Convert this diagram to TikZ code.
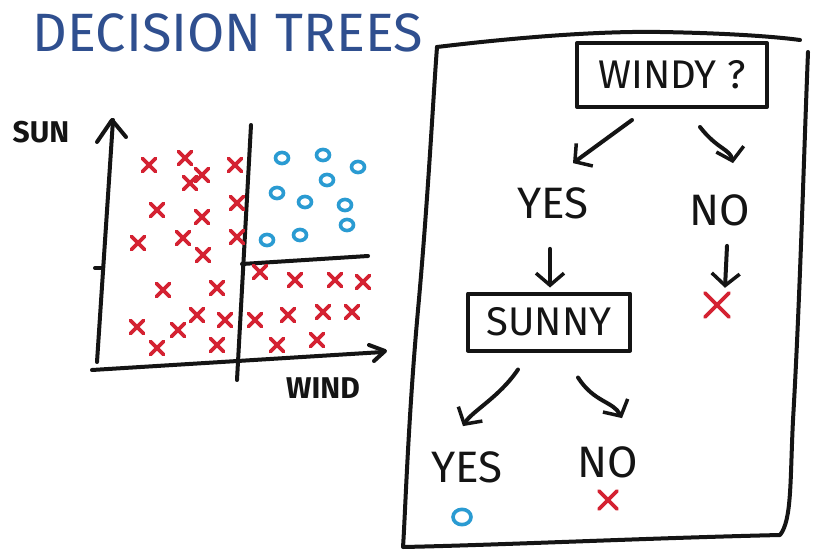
\documentclass[tikz,border=0pt]{standalone}
\usepackage{fontspec}
\setmainfont{Fira Sans}
\usetikzlibrary{arrows.meta,calc}
\definecolor{inkblack}{HTML}{141414}
\definecolor{titleblue}{HTML}{2F4F8F}
\definecolor{markred}{HTML}{D42232}
\definecolor{markblue}{HTML}{2A9BD2}
\tikzset{
  ink/.style={draw=inkblack, line width=4pt, line cap=round, line join=round},
  arr/.style={ink, -{Straight Barb[length=12pt,width=28pt,line width=3.5pt]}},
  lbl/.style={font=\fontsize{44}{44}\selectfont, text=inkblack, inner sep=0pt},
  axlbl/.style={font=\fontsize{30}{30}\selectfont\bfseries, text=inkblack, inner sep=0pt},
  decbox/.style={ink, inner sep=0pt, font=\fontsize{40}{40}\selectfont, text=inkblack},
  xmark/.style={draw=markred, line width=3.6pt, line cap=round},
  omark/.style={draw=markblue, line width=3.6pt},
}
\newcommand{\redx}[3]{\draw[xmark] (#1,#2) +(-#3,-#3) -- +(#3,#3) +(#3,-#3) -- +(-#3,#3);}
\newcommand{\blueo}[3]{\draw[omark] (#1,#2) ellipse [x radius=#3, y radius=#3*0.85];}
\begin{document}
\begin{tikzpicture}[x=1pt,y=-1pt]
\useasboundingbox (0,0) rectangle (818,553);
\fill[white] (0,0) rectangle (818,553);

% title
\node[font=\fontsize{54}{54}\selectfont, text=titleblue, inner sep=0pt] (title) at (228,33) {DECISION TREES};

% ---------- scatter plot ----------
\node[axlbl] (sun) at (41,132) {SUN};
\node[axlbl] (wind) at (323,388) {WIND};
\draw[ink] (97,362) -- (113,120);
\draw[ink] (97,142) -- (112,120) -- (126,137);
\draw[ink] (92,370) -- (383,352);
\draw[ink] (369,345) -- (385,351) -- (374,361);
\draw[ink] (95,268) -- (103,268);
\draw[ink] (251,125) -- (237,380);
\draw[ink] (242,264) -- (368,256);

% red crosses
\foreach \px/\py in {149/165, 185/158, 235/165, 190/183, 202/175, 237/203, 157/210, 202/217,
  138/243, 183/238, 237/237, 203/255, 163/290, 217/288, 137/327, 157/348, 178/330, 197/315,
  225/320, 217/345, 260/272, 295/280, 335/280, 363/282, 255/320, 288/315, 323/312, 352/312,
  277/345, 317/340}
  {\redx{\px}{\py}{6.5}}

% blue circles
\foreach \px/\py in {282/158, 323/155, 358/167, 327/180, 277/193, 305/202, 345/205, 347/225,
  300/235, 267/240}
  {\blueo{\px}{\py}{6.5}}

% ---------- tree frame ----------
\draw[ink] (437,47) .. controls (520,37) and (600,31) .. (660,32) .. controls (720,33) and (770,36) .. (800,40);
\draw[ink] (808,52) .. controls (804,150) and (800,300) .. (793,420)
  .. controls (790,480) and (792,520) .. (780,535)
  .. controls (650,538) and (500,545) .. (403,547)
  .. controls (405,520) and (408,420) .. (418,310)
  .. controls (428,200) and (433,100) .. (437,47);

% ---------- tree ----------
\node[decbox, minimum width=190pt, minimum height=64pt] (windy) at (672,75) {WINDY ?};
\node[lbl] (yes1) at (553,203) {YES};
\node[lbl] (no1) at (720,210) {NO};
\node[decbox, minimum width=162pt, minimum height=57pt] (sunny) at (549,322) {SUNNY};
\node[lbl] (yes2) at (467,467) {YES};
\node[lbl] (no2) at (608,462) {NO};
\node[inner sep=0pt, minimum size=28pt] (leafa) at (717,305) {};
\node[inner sep=0pt, minimum size=16pt] (leafb) at (462,517) {};
\node[inner sep=0pt, minimum size=20pt] (leafc) at (608,500) {};
\redx{717}{305}{12}
\blueo{462}{517}{9}
\redx{608}{500}{9}

\draw[arr] ($(windy.south)+(-40,11)$) -- ($(yes1.north)+(20,-24)$);
\draw[arr] ($(windy.south)+(28,18)$) .. controls ($(windy.south)+(45,40)$) and ($(no1.north)+(10,-45)$) .. ($(no1.north)+(13,-31)$);
\draw[arr] ($(yes1.south)+(-3,30)$) -- ($(sunny.north)+(1,-4)$);
\draw[arr] ($(no1.south)+(7,20)$) -- ($(leafa.north)+(8,-3)$);
\draw[arr] ($(sunny.south)+(-31,17)$) .. controls ($(sunny.south)+(-50,45)$) and ($(yes2.north)+(5,-40)$) .. ($(yes2.north)+(-4,-25)$);
\draw[arr] ($(sunny.south)+(29,25)$) .. controls ($(sunny.south)+(45,50)$) and ($(no2.north)+(5,-45)$) .. ($(no2.north)+(14,-28)$);
\end{tikzpicture}
\end{document}
